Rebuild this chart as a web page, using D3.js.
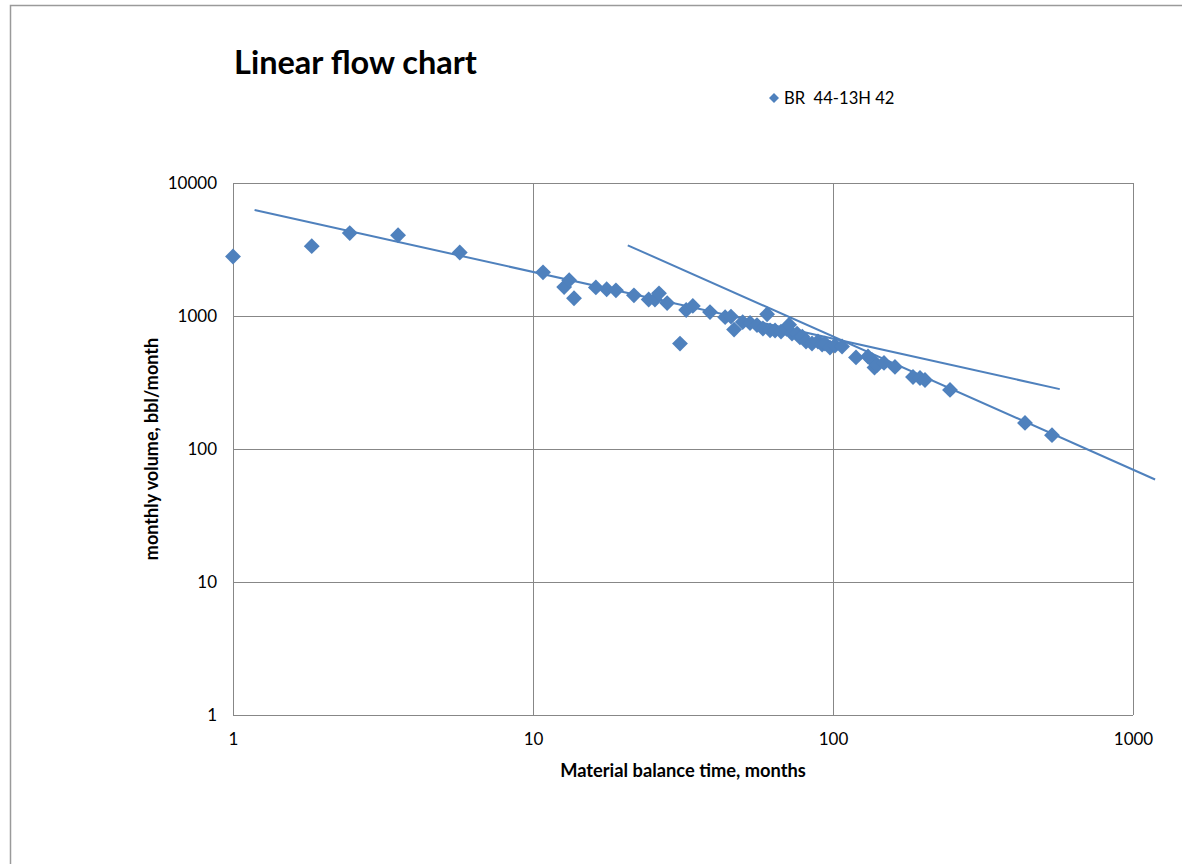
<!DOCTYPE html>
<html>
<head>
<meta charset="utf-8">
<script src="https://cdn.jsdelivr.net/npm/d3@7"></script>
<style>
  html, body { margin: 0; padding: 0; background: #fff; }
  svg { display: block; }
  text { font-family: Lato, "Open Sans", "Liberation Sans", sans-serif; fill: #000; }
</style>
</head>
<body>
<svg id="chart" width="1182" height="864"></svg>
<script>
// ---- data ----
const seriesName = "BR  44-13H 42";
const timeMonths = [1.0, 1.83, 2.45, 3.55, 5.7, 10.8, 12.7, 13.2, 13.7, 16.2, 17.6, 18.9, 21.7, 24.3, 25.5, 26.3, 28.0, 30.9, 32.4, 34.1, 38.9, 43.7, 45.7, 46.8, 50.0, 52.9, 55.8, 58.4, 60.3, 61.7, 64.1, 67.1, 70.0, 71.4, 73.0, 75.9, 77.6, 79.0, 81.3, 85.1, 89.1, 92.0, 94.0, 97.7, 101.5, 107.2, 119.3, 130.8, 134.9, 137.5, 140.2, 147.9, 160.9, 184.8, 195, 202.6, 245.5, 436.5, 537];
const monthlyVolume = [2800, 3350, 4200, 4050, 3000, 2130, 1650, 1860, 1360, 1640, 1590, 1560, 1430, 1330, 1330, 1480, 1250, 620, 1110, 1190, 1070, 980, 990, 790, 900, 886, 855, 805, 1030, 780, 778, 764, 800, 860, 738, 738, 690, 700, 643, 621, 643, 610, 621, 579, 600, 590, 488, 496, 467, 410, 428, 444, 414, 348, 342, 330, 278, 157, 127];
// trend lines (endpoints)
const trendLinearX = [1.18, 570];
const trendLinearY = [6270, 282];
const trendBoundaryX = [20.7, 1185];
const trendBoundaryY = [3400, 59];
const xTicks = [1, 10, 100, 1000];
const yTicks = [1, 10, 100, 1000, 10000];
const titleText = "Linear flow chart";
const xLabel = "Material balance time, months";
const yLabel = "monthly volume, bbl/month";

// ---- chart ----
const svg = d3.select("#chart");
const blue = "#4F81BD";
const grid = "#878787";
const plot = {left: 233, right: 1133, top: 183, bottom: 715};

const x = d3.scaleLog().domain([1, 1000]).range([plot.left, plot.right]);
const y = d3.scaleLog().domain([1, 10000]).range([plot.bottom, plot.top]);

// outer border
svg.append("path")
  .attr("d", "M10.5,864 L10.5,5.5 L1182,5.5")
  .attr("fill", "none").attr("stroke", "#9a9a9a").attr("stroke-width", 1.5);

// gridlines
svg.append("g").selectAll("line").data(yTicks).join("line")
  .attr("x1", plot.left).attr("x2", plot.right)
  .attr("y1", d => Math.round(y(d)) + 0.5).attr("y2", d => Math.round(y(d)) + 0.5)
  .attr("stroke", grid).attr("stroke-width", 1);
svg.append("g").selectAll("line").data(xTicks).join("line")
  .attr("y1", plot.top).attr("y2", plot.bottom)
  .attr("x1", d => Math.round(x(d)) + 0.5).attr("x2", d => Math.round(x(d)) + 0.5)
  .attr("stroke", grid).attr("stroke-width", 1);

// axes tick labels via d3 axes
const yAxis = d3.axisLeft(y).tickValues(yTicks).tickFormat(d3.format("d")).tickSize(0).tickPadding(16);
const gy = svg.append("g").attr("transform", `translate(${plot.left},0)`).call(yAxis);
gy.select(".domain").remove();
gy.selectAll("text").style("font-size", "17px").style("font-family", "Lato, 'Open Sans', sans-serif").attr("fill", "#000");

const xAxis = d3.axisBottom(x).tickValues(xTicks).tickFormat(d3.format("d")).tickSize(0).tickPadding(18);
const gx = svg.append("g").attr("transform", `translate(0,${plot.bottom})`).call(xAxis);
gx.select(".domain").remove();
gx.selectAll("text").style("font-size", "17px").style("font-family", "Lato, 'Open Sans', sans-serif").attr("fill", "#000");

// trend lines
const line = d3.line().x(d => x(d[0])).y(d => y(d[1]));
[[trendLinearX, trendLinearY], [trendBoundaryX, trendBoundaryY]].forEach(([xs, ys]) => {
  svg.append("path")
    .attr("d", line(xs.map((v, i) => [v, ys[i]])))
    .attr("fill", "none").attr("stroke", blue).attr("stroke-width", 2);
});

// markers
const diamond = d3.symbol().type(d3.symbolDiamond2).size(160);
svg.append("g").selectAll("path").data(timeMonths.map((t, i) => [t, monthlyVolume[i]])).join("path")
  .attr("d", diamond)
  .attr("transform", d => `translate(${x(d[0])},${y(d[1])})`)
  .attr("fill", blue);

// title
svg.append("text").attr("x", 234).attr("y", 74)
  .style("font-size", "32.5px").style("font-weight", "bold").text(titleText);

// legend
svg.append("path").attr("d", d3.symbol().type(d3.symbolDiamond2).size(64)())
  .attr("transform", "translate(774,98)").attr("fill", blue);
svg.append("text").attr("x", 784).attr("y", 104)
  .style("font-size", "16.6px").style("white-space", "pre").attr("xml:space", "preserve").text(seriesName);

// axis titles
svg.append("text").attr("x", 683).attr("y", 777).attr("text-anchor", "middle")
  .style("font-size", "18.3px").style("font-weight", "bold").text(xLabel);
svg.append("text").attr("transform", "translate(158,449) rotate(-90)").attr("text-anchor", "middle")
  .style("font-size", "18px").style("font-weight", "bold").text(yLabel);
</script>
</body>
</html>
